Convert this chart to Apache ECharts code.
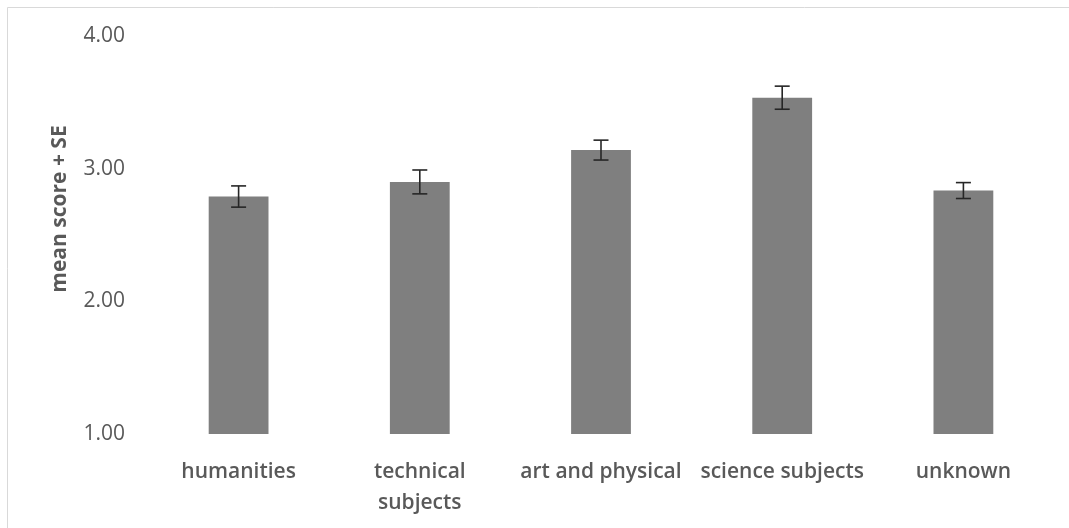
<!DOCTYPE html>
<html>
<head>
<meta charset="utf-8">
<script src="https://cdn.jsdelivr.net/npm/echarts@6/dist/echarts.min.js"></script>
<style>
html,body{margin:0;padding:0;background:#fff;}
#chart{width:1069px;height:528px;}
</style>
</head>
<body>
<div id="chart"></div>
<script>
var categories = ['humanities', 'technical\nsubjects', 'art and physical', 'science subjects', 'unknown'];
var meanScores = [2.79, 2.90, 3.14, 3.535, 2.835];
var standardErrors = [0.08, 0.09, 0.075, 0.087, 0.06];
var yTicks = [1, 2, 3, 4];
var yAxisTitle = 'mean score + SE';

var errorData = categories.map(function (c, i) {
  return [i, meanScores[i] - standardErrors[i], meanScores[i] + standardErrors[i]];
});

var chart = echarts.init(document.getElementById('chart'), null, {renderer: 'canvas'});
chart.setOption({
  backgroundColor: '#ffffff',
  animation: false,
  graphic: [
    {
      type: 'rect',
      shape: {x: 7.5, y: 7.5, width: 1080, height: 540},
      style: {fill: 'none', stroke: '#d9d9d9', lineWidth: 1},
      silent: true
    },
    {
      type: 'text',
      x: 60, y: 209,
      rotation: Math.PI / 2,
      style: {
        text: yAxisTitle,
        font: 'bold 21px "Open Sans"',
        fill: '#595959',
        align: 'center',
        verticalAlign: 'middle'
      }
    }
  ],
  grid: {left: 148, right: 15, top: 36, bottom: 94, containLabel: false},
  xAxis: {
    type: 'category',
    data: categories,
    axisLine: {show: false},
    axisTick: {show: false},
    axisLabel: {
      interval: 0,
      margin: 23,
      color: '#595959',
      fontFamily: 'Open Sans',
      fontWeight: 600,
      fontSize: 21,
      lineHeight: 31
    },
    splitLine: {show: false}
  },
  yAxis: {
    type: 'value',
    min: yTicks[0],
    max: yTicks[yTicks.length - 1],
    interval: 1,
    axisLine: {show: false},
    axisTick: {show: false},
    splitLine: {show: false},
    axisLabel: {
      margin: 23,
      color: '#595959',
      fontFamily: 'Open Sans',
      fontSize: 21,
      formatter: function (v) { return v.toFixed(2); }
    }
  },
  series: [
    {
      type: 'bar',
      data: meanScores,
      barWidth: '33%',
      itemStyle: {color: '#7f7f7f'},
      silent: true
    },
    {
      type: 'custom',
      data: errorData,
      silent: true,
      z: 10,
      renderItem: function (params, api) {
        var x = api.value(0);
        var lo = api.coord([x, api.value(1)]);
        var hi = api.coord([x, api.value(2)]);
        var half = 7.5;
        var style = {stroke: '#262626', lineWidth: 1.6};
        return {
          type: 'group',
          children: [
            {type: 'line', shape: {x1: lo[0], y1: lo[1], x2: hi[0], y2: hi[1]}, style: style},
            {type: 'line', shape: {x1: hi[0] - half, y1: hi[1], x2: hi[0] + half, y2: hi[1]}, style: style},
            {type: 'line', shape: {x1: lo[0] - half, y1: lo[1], x2: lo[0] + half, y2: lo[1]}, style: style}
          ]
        };
      }
    }
  ]
});
</script>
</body>
</html>
